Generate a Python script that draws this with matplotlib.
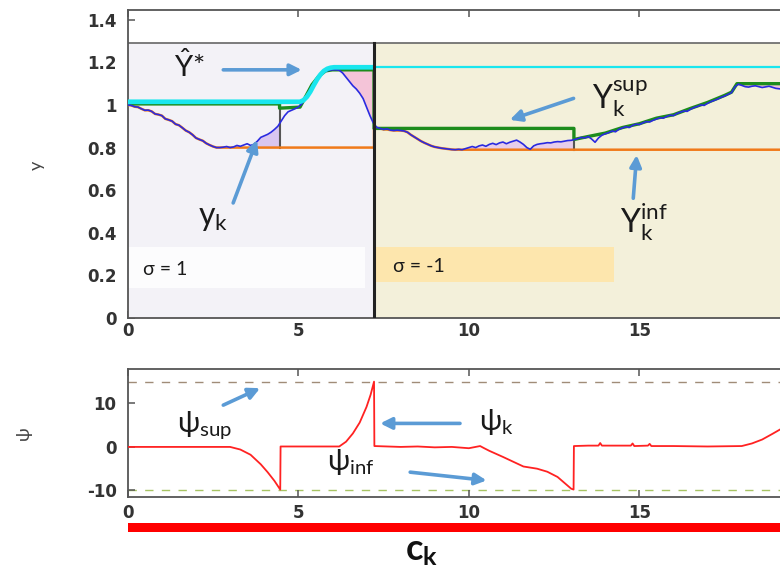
import numpy as np
import matplotlib
matplotlib.use("Agg")
import matplotlib.pyplot as plt
from matplotlib.patches import Rectangle
from matplotlib.ticker import FuncFormatter

# ========== 1. Data ==========
t = np.round(np.arange(0, 19.25, 0.1), 1)

# measured output y_k
y_k = np.array([
    1.000, 0.998, 0.992, 0.990, 0.982, 0.975, 0.976, 0.970, 0.958, 0.955,
    0.950, 0.935, 0.930, 0.924, 0.910, 0.905, 0.893, 0.880, 0.872, 0.860,
    0.845, 0.838, 0.832, 0.820, 0.812, 0.805, 0.800, 0.800, 0.802, 0.805,
    0.800, 0.803, 0.810, 0.806, 0.812, 0.818, 0.810, 0.815, 0.830, 0.848,
    0.855, 0.862, 0.872, 0.885, 0.900, 0.925, 0.950, 0.968, 0.975, 0.982,
    0.990, 1.005, 1.030, 1.060, 1.090, 1.110, 1.130, 1.148, 1.158, 1.163,
    1.165, 1.165, 1.163, 1.150, 1.130, 1.110, 1.090, 1.075, 1.055, 1.030,
    0.990, 0.950, 0.915, 0.895, 0.890, 0.885, 0.888, 0.882, 0.880, 0.882,
    0.880, 0.878, 0.872, 0.860, 0.850, 0.840, 0.830, 0.822, 0.815, 0.808,
    0.803, 0.800, 0.797, 0.795, 0.793, 0.791, 0.790, 0.792, 0.790, 0.795,
    0.800, 0.805, 0.800, 0.808, 0.812, 0.806, 0.815, 0.820, 0.814, 0.822,
    0.826, 0.818, 0.825, 0.830, 0.835, 0.826, 0.815, 0.800, 0.792, 0.808,
    0.815, 0.818, 0.820, 0.823, 0.822, 0.826, 0.828, 0.827, 0.830, 0.833,
    0.834, 0.838, 0.842, 0.848, 0.845, 0.852, 0.840, 0.825, 0.845, 0.858,
    0.865, 0.870, 0.878, 0.874, 0.886, 0.892, 0.898, 0.894, 0.904, 0.910,
    0.908, 0.916, 0.922, 0.920, 0.928, 0.934, 0.940, 0.938, 0.946, 0.952,
    0.950, 0.960, 0.966, 0.972, 0.970, 0.980, 0.988, 0.993, 1.000, 0.998,
    1.008, 1.016, 1.022, 1.028, 1.036, 1.042, 1.050, 1.058, 1.085, 1.098,
    1.092, 1.086, 1.084, 1.088, 1.090, 1.086, 1.082, 1.085, 1.088, 1.083,
    1.078, 1.076, 1.074,
])

# upper bound Y_k^sup (green)
ysup_t = [0, 4.45, 4.45, 5.05, 5.2, 5.4, 5.6, 5.8, 6.0, 7.22, 7.22, 13.08, 13.08,
          13.5, 14.0, 14.5, 15.0, 15.5, 16.0, 16.5, 17.0, 17.5, 17.7, 17.86, 19.3]
ysup_v = [1.005, 1.005, 0.985, 0.99, 1.035, 1.095, 1.135, 1.160, 1.165, 1.165, 0.89, 0.89, 0.838,
          0.852, 0.868, 0.894, 0.912, 0.938, 0.954, 0.984, 1.012, 1.045, 1.060, 1.100, 1.100]

# set-point Y_hat* (cyan)
yhat_t = [0, 5.05, 5.15, 5.25, 5.35, 5.45, 5.55, 5.65, 5.75, 5.85, 5.95, 6.05, 7.22]
yhat_v = [1.015, 1.015, 1.022, 1.038, 1.062, 1.092, 1.120, 1.143, 1.160, 1.170, 1.175, 1.177, 1.177]
yhat2_t = [7.22, 19.3]
yhat2_v = [1.178, 1.178]

# sigma switch instant and top of the shaded band
t_switch = 7.22
y_band_top = 1.29

# psi_k (red) and its bounds
psi_t = [0, 3.0, 3.3, 3.6, 3.9, 4.1, 4.3, 4.47, 4.48, 6.2, 6.4, 6.6, 6.8, 7.0, 7.12, 7.22, 7.23,
         8.0, 8.5, 9.0, 9.5, 10.0, 10.33, 10.45, 10.6, 11.0, 11.3, 11.6, 12.0, 12.3, 12.6, 13.0, 13.07, 13.08,
         13.5, 13.8, 13.85, 13.9, 14.5, 14.75, 14.8, 14.85, 15.25, 15.3, 15.35, 16.0, 17.0, 18.0, 18.3, 18.6, 18.9, 19.3]
psi_v = [0, 0, -0.6, -1.8, -4.0, -5.8, -7.8, -9.8, 0.1, 0.1, 1.2, 3.1, 5.6, 9.2, 12.0, 15.0, 0.2,
         0.0, 0.1, -0.1, 0.0, -0.3, 0.2, -0.3, -0.9, -2.3, -3.4, -4.5, -5.0, -5.7, -6.9, -9.6, -9.8, 0.2,
         0.3, 0.3, 0.9, 0.3, 0.3, 0.3, 0.8, 0.2, 0.3, 0.7, 0.2, 0.2, 0.1, 0.2, 0.8, 1.7, 3.0, 4.8]
psi_sup = 15
psi_inf = -10

# lower bound Y_k^inf (orange) = running minimum of y_k inside each sigma phase
seg1 = t < t_switch
seg2 = t > t_switch
yinf1 = np.minimum.accumulate(y_k[seg1])
yinf2 = np.minimum.accumulate(np.r_[0.89, y_k[seg2]])
yinf_t = np.r_[t[seg1], t_switch, t_switch, t[seg2]]
yinf_v = np.r_[yinf1, yinf1[-1], yinf2]

# ========== 2. Style ==========
plt.rcParams["font.family"] = ["Lato", "DejaVu Sans"]
plt.rcParams["mathtext.fontset"] = "custom"
plt.rcParams["mathtext.rm"] = "Lato"
plt.rcParams["mathtext.it"] = "Lato:italic"
plt.rcParams["mathtext.bf"] = "Lato:bold"
plt.rcParams["axes.unicode_minus"] = False

arrow_c = "#5b9bd5"
spine_c = "#555555"

def style_axis(ax):
    for s in ax.spines.values():
        s.set_color(spine_c)
        s.set_linewidth(1.3)
    ax.tick_params(direction="in", length=5, width=1.1, color=spine_c,
                   top=True, right=True, labelsize=12, labelcolor="#333333")
    for lab in ax.get_xticklabels() + ax.get_yticklabels():
        lab.set_fontfamily("DejaVu Sans")
        lab.set_fontweight("bold")

def arrow(ax, head, tail):
    ax.annotate("", xy=head, xytext=tail,
                arrowprops=dict(arrowstyle="-|>", color=arrow_c, lw=2.6,
                                mutation_scale=17, shrinkA=0, shrinkB=0), zorder=8)

fig = plt.figure(figsize=(7.8, 5.67), dpi=100)

# ========== 3. Top panel ==========
ax1 = fig.add_axes([0.1638, 0.4392, 0.8746, 0.5432])
ax1.set_xlim(0, 20)
ax1.set_ylim(0, 1.446)
ax1.set_axisbelow(True)

ax1.add_patch(Rectangle((0, 0), t_switch, y_band_top, fc="#f3f2f7", ec="none", zorder=0.6))
ax1.add_patch(Rectangle((t_switch, 0), 20 - t_switch, y_band_top, fc="#f3f0da", ec="none", zorder=0.6))
ax1.add_patch(Rectangle((0.0, 0.14), 6.95, 0.195, fc="#fcfcfd", ec="none", zorder=0.7))
ax1.add_patch(Rectangle((7.25, 0.17), 7.0, 0.165, fc="#fde6ad", ec="none", zorder=0.7))
ax1.axhline(y_band_top, color="#666666", lw=1.2, zorder=1)
ax1.plot([t_switch, t_switch], [0, y_band_top], color="#222222", lw=2.2, zorder=6)

# shaded gaps between y_k and the bounds
tf = np.linspace(3.68, 4.45, 40)
ax1.fill_between(tf, np.interp(tf, t, y_k), 0.8, color="#d9c6f0", lw=0, zorder=1)
tf = np.linspace(9.9, 13.08, 80)
ax1.fill_between(tf, np.interp(tf, t, y_k), 0.79, color="#e6cdeb", lw=0, zorder=1)
tf = np.linspace(6.2, t_switch, 40)
ax1.fill_between(tf, np.interp(tf, t, y_k), 1.165, color="#f4c4d8", lw=0, zorder=1)
tf = np.linspace(17.86, 19.2, 40)
ax1.fill_between(tf, np.interp(tf, t, y_k), 1.10, color="#f4c4d8", lw=0, zorder=1)
ax1.plot([4.45, 4.45], [0.8, 0.985], color="#555555", lw=1.5, zorder=2)
ax1.plot([13.08, 13.08], [0.79, 0.836], color="#555555", lw=1.5, zorder=2)

ax1.plot(yinf_t, yinf_v, color="#f07a1a", lw=1.8, zorder=3)
ax1.plot(ysup_t, ysup_v, color="#1c8c1c", lw=2.4, zorder=4)
ax1.plot(t, y_k, color="#2a2ae0", lw=1.2, zorder=5)
ax1.plot(yhat_t, yhat_v, color="#19e6ee", lw=3.4, zorder=5.5, solid_capstyle="butt")
ax1.plot(yhat2_t, yhat2_v, color="#19e6ee", lw=1.6, zorder=5.5)

ax1.set_xticks([0, 5, 10, 15])
ax1.set_yticks([0, 0.2, 0.4, 0.6, 0.8, 1.0, 1.2, 1.4])
ax1.yaxis.set_major_formatter(FuncFormatter(lambda v, p: f"{v:g}"))
ax1.tick_params(axis="y", pad=8)
ax1.tick_params(axis="x", pad=3)
style_axis(ax1)

txt = dict(color="#1a1a1a", zorder=9)
ax1.text(1.8, 1.185, r"$\hat{\mathrm{Y}}$*", fontsize=21, ha="center", va="center", **txt)
arrow(ax1, (5.1, 1.165), (2.8, 1.165))
ax1.text(2.5, 0.47, r"$\mathrm{y_k}$", fontsize=23, ha="center", va="center", **txt)
arrow(ax1, (3.79, 0.836), (3.09, 0.54))
ax1.text(13.6, 0.985, r"$\mathrm{Y_k^{sup}}$", fontsize=23, ha="left", va="baseline", **txt)
arrow(ax1, (11.2, 0.93), (13.07, 1.031))
ax1.text(14.43, 0.40, r"$\mathrm{Y_k^{inf}}$", fontsize=23, ha="left", va="baseline", **txt)
arrow(ax1, (14.92, 0.765), (14.82, 0.562))
ax1.text(0.45, 0.20, "σ = 1", fontsize=14, ha="left", va="baseline", **txt)
ax1.text(7.79, 0.215, "σ = -1", fontsize=14, ha="left", va="baseline", **txt)

# ========== 4. Bottom panel ==========
ax2 = fig.add_axes([0.1638, 0.1235, 0.8746, 0.2257])
ax2.set_xlim(0, 20)
ax2.set_ylim(-11.5, 17.9)
ax2.axhline(psi_sup, color="#a08c78", lw=1.0, ls=(0, (6, 6)), zorder=1)
ax2.axhline(psi_inf, color="#a8c464", lw=1.0, ls=(0, (6, 6)), zorder=1)
ax2.plot(psi_t, psi_v, color="#ff2222", lw=1.3, zorder=3)
ax2.set_xticks([0, 5, 10, 15])
ax2.set_yticks([-10, 0, 10])
ax2.tick_params(axis="y", pad=8)
ax2.tick_params(axis="x", pad=5)
style_axis(ax2)

ax2.text(1.43, 3.5, r"$\mathrm{ψ_{sup}}$", fontsize=21, ha="left", va="baseline", **txt)
arrow(ax2, (3.88, 13.5), (2.8, 9.6))
ax2.text(10.3, 3.8, r"$\mathrm{ψ_k}$", fontsize=21, ha="left", va="baseline", **txt)
arrow(ax2, (7.4, 5.4), (9.74, 5.4))
ax2.text(5.83, -5.2, r"$\mathrm{ψ_{inf}}$", fontsize=21, ha="left", va="baseline", **txt)
arrow(ax2, (10.52, -7.7), (8.28, -5.8))

# ========== 5. Labels and red bar ==========
fig.text(0.047, 0.709, "y", rotation=90, fontsize=13, color="#444444", ha="center", va="center")
fig.text(0.030, 0.236, "ψ", rotation=90, fontsize=13, color="#444444", ha="center", va="center")
fig.add_artist(Rectangle((0.1638, 0.062), 0.84, 0.016, transform=fig.transFigure,
                         fc="#ff0000", ec="none"))
fig.text(0.54, 0.011, r"$\mathbf{c_k}$", fontsize=26, ha="center", va="baseline", color="#111111")

fig.savefig("out.png", dpi=100)
